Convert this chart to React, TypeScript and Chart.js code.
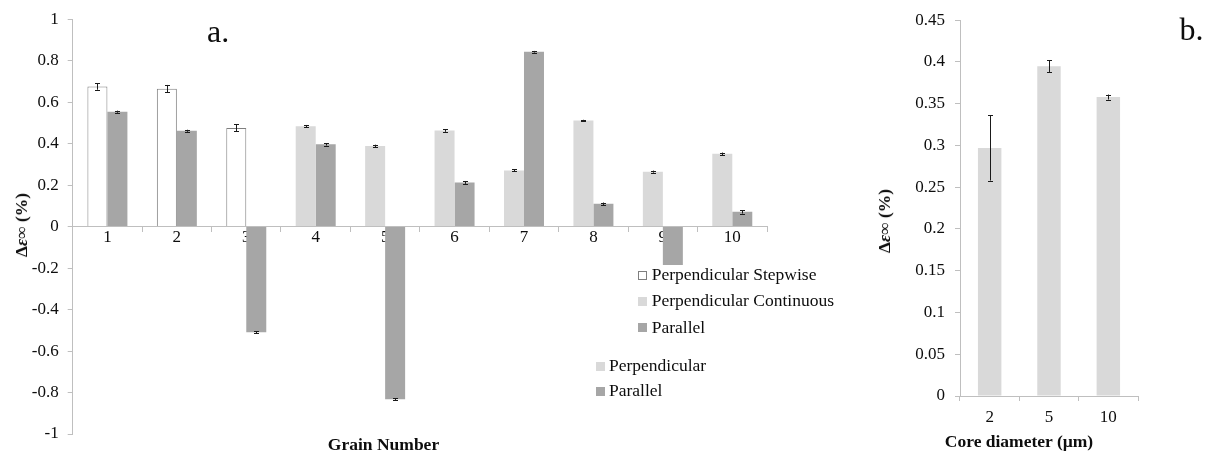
import React, { useEffect, useRef } from "react";
import { Chart, registerables } from "chart.js";

Chart.register(...registerables);

// ---------- Panel a data ----------
const grainLabels = ["1", "2", "3", "4", "5", "6", "7", "8", "9", "10"];
const stepwiseValues = [0.675, 0.665, 0.476, null, null, null, null, null, null, null];
const stepwiseErrors = [0.015, 0.018, 0.017, null, null, null, null, null, null, null];
const continuousValues = [null, null, null, 0.484, 0.389, 0.463, 0.271, 0.511, 0.265, 0.351];
const continuousErrors = [null, null, null, 0.006, 0.006, 0.006, 0.005, 0.004, 0.005, 0.006];
const parallelValues = [0.554, 0.462, -0.51, 0.397, -0.832, 0.213, 0.843, 0.11, -0.185, 0.071];
const parallelErrors = [0.005, 0.005, 0.005, 0.006, 0.004, 0.007, 0.004, 0.006, null, 0.008];
const yTicksA = [-1, -0.8, -0.6, -0.4, -0.2, 0, 0.2, 0.4, 0.6, 0.8, 1];

// ---------- Panel b data ----------
const coreLabels = ["2", "5", "10"];
const coreValues = [0.297, 0.395, 0.358];
const coreErrors = [0.039, 0.007, 0.003];
const yTicksB = [0, 0.05, 0.1, 0.15, 0.2, 0.25, 0.3, 0.35, 0.4, 0.45];

// ---------- Legend entries ----------
const legendA = [
  { label: "Perpendicular Stepwise", fill: "#ffffff", border: "#7f7f7f" },
  { label: "Perpendicular Continuous", fill: "#d9d9d9", border: "#d9d9d9" },
  { label: "Parallel", fill: "#a6a6a6", border: "#a6a6a6" },
];
const legendB = [
  { label: "Perpendicular", fill: "#d9d9d9", border: "#d9d9d9" },
  { label: "Parallel", fill: "#a6a6a6", border: "#a6a6a6" },
];

const SERIF = '"Liberation Serif", "Times New Roman", "DejaVu Serif", serif';
const AXIS = "#bfbfbf";
const TEXT = "#0d0d0d";
const tickFont = { family: SERIF, size: 17 };
const titleFont = { family: SERIF, size: 17.5, weight: "bold" as const };

const fmt = (v: number) => String(Number(Number(v).toFixed(2)));

const errorBarPlugin = {
  id: "errorBars",
  afterDatasetsDraw(chart: any) {
    const ctx = chart.ctx;
    const yScale = chart.scales.y;
    chart.data.datasets.forEach((ds: any, di: number) => {
      const errs = ds.errors;
      if (!errs) return;
      const meta = chart.getDatasetMeta(di);
      meta.data.forEach((bar: any, i: number) => {
        const v = ds.data[i];
        const e = errs[i];
        if (v == null || e == null) return;
        const xc = Math.round(bar.x) + 0.5;
        const yTop = yScale.getPixelForValue(v + e);
        const yBot = yScale.getPixelForValue(v - e);
        ctx.save();
        ctx.strokeStyle = "#1a1a1a";
        ctx.lineWidth = 1;
        ctx.beginPath();
        ctx.moveTo(xc, yTop);
        ctx.lineTo(xc, yBot);
        ctx.moveTo(xc - 2.5, Math.round(yTop) + 0.5);
        ctx.lineTo(xc + 2.5, Math.round(yTop) + 0.5);
        ctx.moveTo(xc - 2.5, Math.round(yBot) + 0.5);
        ctx.lineTo(xc + 2.5, Math.round(yBot) + 0.5);
        ctx.stroke();
        ctx.restore();
      });
    });
  },
};

function LegendBlock({ items, squareX, textX, baselines }: any) {
  return (
    <>
      {items.map((it: any, i: number) => (
        <React.Fragment key={it.label + i}>
          <div
            style={{
              position: "absolute",
              left: squareX,
              top: baselines[i] - 9.5,
              width: 9,
              height: 9,
              boxSizing: "border-box",
              background: it.fill,
              border: `1px solid ${it.border}`,
            }}
          />
          <div
            style={{
              position: "absolute",
              left: textX,
              top: baselines[i] - 15.9,
              height: 20,
              lineHeight: "20px",
              fontSize: 17.5,
              fontFamily: SERIF,
              color: TEXT,
              whiteSpace: "nowrap",
            }}
          >
            {it.label}
          </div>
        </React.Fragment>
      ))}
    </>
  );
}

function YTitle({ cx, cy }: { cx: number; cy: number }) {
  return (
    <div
      style={{
        position: "absolute",
        left: cx,
        top: cy,
        transform: "translate(-50%, -50%) rotate(-90deg)",
        fontSize: 17.5,
        lineHeight: "20px",
        whiteSpace: "nowrap",
        color: TEXT,
        fontFamily: SERIF,
      }}
    >
      <b>Δ</b>
      <b>
        <i>ε</i>
      </b>
      <span>∞</span>
      <b> (%)</b>
    </div>
  );
}

export default function App() {
  const aRef = useRef<HTMLCanvasElement | null>(null);
  const bRef = useRef<HTMLCanvasElement | null>(null);

  useEffect(() => {
    const chartA = new Chart(aRef.current as HTMLCanvasElement, {
      type: "bar",
      data: {
        labels: grainLabels,
        datasets: [
          {
            label: legendA[0].label,
            data: stepwiseValues,
            errors: stepwiseErrors,
            stack: "perp",
            backgroundColor: "#ffffff",
            borderColor: "#7f7f7f",
            borderWidth: 1,
          },
          {
            label: legendA[1].label,
            data: continuousValues,
            errors: continuousErrors,
            stack: "perp",
            backgroundColor: "#d9d9d9",
            borderWidth: 0,
          },
          {
            label: legendA[2].label,
            data: parallelValues,
            errors: parallelErrors,
            stack: "par",
            backgroundColor: "#a6a6a6",
            borderWidth: 0,
          },
        ] as any,
      },
      options: {
        responsive: false,
        animation: false,
        events: [],
        datasets: { bar: { categoryPercentage: 0.576, barPercentage: 1 } },
        layout: { padding: { left: 0, right: 73, top: 14, bottom: 0 } },
        plugins: {
          legend: { display: false },
          tooltip: { enabled: false },
          title: {
            display: true,
            text: "Grain Number",
            position: "bottom",
            color: TEXT,
            font: titleFont,
            padding: { top: 1, bottom: 0 },
          },
        },
        scales: {
          x: {
            stacked: true,
            position: { y: 0 } as any,
            grid: { drawOnChartArea: false, tickLength: 5, color: AXIS },
            border: { color: AXIS },
            ticks: { padding: -4, font: tickFont, color: TEXT, maxRotation: 0, autoSkip: false },
          },
          y: {
            stacked: true,
            min: -1,
            max: 1,
            afterBuildTicks: (s: any) => {
              s.ticks = yTicksA.map((v) => ({ value: v }));
            },
            afterFit: (s: any) => {
              s.width = 72.7;
            },
            grid: { drawOnChartArea: false, tickLength: 5, color: AXIS },
            border: { color: AXIS },
            ticks: { padding: 9, font: tickFont, color: TEXT, callback: (v: any) => fmt(v) },
          },
        },
      } as any,
      plugins: [errorBarPlugin],
    });

    const chartB = new Chart(bRef.current as HTMLCanvasElement, {
      type: "bar",
      data: {
        labels: coreLabels,
        datasets: [
          {
            label: legendB[0].label,
            data: coreValues,
            errors: coreErrors,
            backgroundColor: "#d9d9d9",
            borderWidth: 0,
          },
        ] as any,
      },
      options: {
        responsive: false,
        animation: false,
        events: [],
        datasets: { bar: { categoryPercentage: 1, barPercentage: 0.395 } },
        layout: { padding: { left: 0, right: 69, top: 13, bottom: 30 } },
        plugins: {
          legend: { display: false },
          tooltip: { enabled: false },
        },
        scales: {
          x: {
            grid: { drawOnChartArea: false, tickLength: 5, color: AXIS },
            border: { color: AXIS },
            afterFit: (s: any) => {
              s.height = 30;
            },
            ticks: { padding: 6.6, font: tickFont, color: TEXT, maxRotation: 0 },
          },
          y: {
            min: 0,
            max: 0.45,
            afterBuildTicks: (s: any) => {
              s.ticks = yTicksB.map((v) => ({ value: v }));
            },
            afterFit: (s: any) => {
              s.width = 120;
            },
            grid: { drawOnChartArea: false, tickLength: 5, color: AXIS },
            border: { color: AXIS },
            ticks: { padding: 10, font: tickFont, color: TEXT, callback: (v: any) => fmt(v) },
          },
        },
      } as any,
      plugins: [errorBarPlugin],
    });

    return () => {
      chartA.destroy();
      chartB.destroy();
    };
  }, []);

  return (
    <div
      style={{
        position: "fixed",
        left: 0,
        top: 0,
        width: 1207,
        height: 456,
        background: "#ffffff",
        overflow: "hidden",
        fontFamily: SERIF,
      }}
    >
      <canvas
        ref={aRef}
        width={840}
        height={456}
        style={{ position: "absolute", left: 0, top: 0, width: 840, height: 456 }}
      />
      <canvas
        ref={bRef}
        width={367}
        height={456}
        style={{ position: "absolute", left: 840, top: 0, width: 367, height: 456 }}
      />
      <div
        style={{
          position: "absolute",
          left: 207,
          top: 14.9,
          fontSize: 32,
          lineHeight: "32px",
          color: TEXT,
          fontFamily: SERIF,
        }}
      >
        a.
      </div>
      <div
        style={{
          position: "absolute",
          left: 1179.5,
          top: 13.2,
          fontSize: 32,
          lineHeight: "32px",
          color: TEXT,
          fontFamily: SERIF,
        }}
      >
        b.
      </div>
      <LegendBlock items={legendA} squareX={638} textX={651.7} baselines={[280, 306.3, 332.6]} />
      <LegendBlock items={legendB} squareX={596} textX={609} baselines={[371, 396]} />
      <YTitle cx={21} cy={224.5} />
      <YTitle cx={884} cy={221} />
      <div
        style={{
          position: "absolute",
          left: 1019,
          top: 430.8,
          transform: "translateX(-50%)",
          fontSize: 17.5,
          fontWeight: "bold",
          lineHeight: "20px",
          whiteSpace: "nowrap",
          color: TEXT,
          fontFamily: SERIF,
        }}
      >
        Core diameter (µm)
      </div>
    </div>
  );
}
